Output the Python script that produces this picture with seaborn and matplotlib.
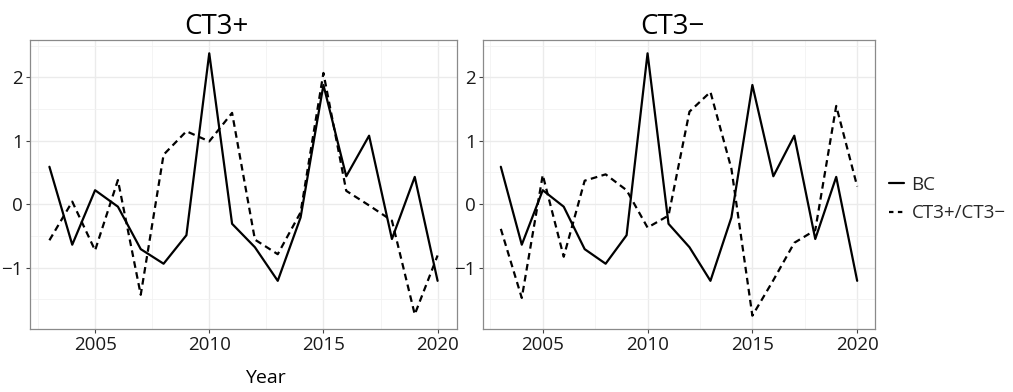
import seaborn as sns
import matplotlib.pyplot as plt
import pandas as pd
import numpy as np
from matplotlib.ticker import MultipleLocator
from matplotlib.lines import Line2D

sns.set_style("white")
plt.rcParams['font.family'] = ['Open Sans', 'DejaVu Sans']

years = list(range(2003, 2021))
bc = [0.59, -0.64, 0.22, -0.04, -0.71, -0.94, -0.49, 2.38, -0.31, -0.68,
      -1.21, -0.21, 1.88, 0.44, 1.08, -0.55, 0.43, -1.21]
ratio_pos = [-0.57, 0.04, -0.73, 0.38, -1.43, 0.78, 1.15, 0.99, 1.44, -0.56,
             -0.79, -0.13, 2.07, 0.21, -0.02, -0.26, -1.74, -0.81]
ratio_neg = [-0.39, -1.48, 0.46, -0.83, 0.37, 0.47, 0.22, -0.37, -0.18, 1.46,
             1.77, 0.56, -1.76, -1.20, -0.61, -0.41, 1.55, 0.28]
panels = ["CT3+", "CT3\u2212"]
series_names = ["BC", "CT3+/CT3\u2212"]

rows = []
for panel, ratio in zip(panels, [ratio_pos, ratio_neg]):
    for y, a, b in zip(years, bc, ratio):
        rows.append({"panel": panel, "Year": y, "series": series_names[0], "value": a})
        rows.append({"panel": panel, "Year": y, "series": series_names[1], "value": b})
df = pd.DataFrame(rows)

fig = plt.figure(figsize=(10.13, 3.92), dpi=100)
W, H = 1013, 392
boxes = [(30, 40, 457, 329), (483, 40, 875, 329)]
title_x = [216, 672]

for i, (panel, (l, t, r, b)) in enumerate(zip(panels, boxes)):
    ax = fig.add_axes([l / W, 1 - b / H, (r - l) / W, (b - t) / H])
    sub = df[df["panel"] == panel]
    sns.lineplot(data=sub, x="Year", y="value", style="series",
                 style_order=series_names, dashes={series_names[0]: "",
                 series_names[1]: (3, 2)}, color="black", linewidth=1.6,
                 ax=ax, legend=False)
    ax.set_xlim(2002.15, 2020.85)
    ax.set_ylim(-1.97, 2.59)
    ax.xaxis.set_major_locator(MultipleLocator(5))
    ax.xaxis.set_minor_locator(MultipleLocator(2.5))
    ax.yaxis.set_major_locator(MultipleLocator(1))
    ax.yaxis.set_minor_locator(MultipleLocator(0.5))
    ax.grid(which="major", color="#ebebeb", linewidth=1.0)
    ax.grid(which="minor", color="#f2f2f2", linewidth=0.6)
    ax.set_axisbelow(True)
    for s in ax.spines.values():
        s.set_color("#8a8a8a")
        s.set_linewidth(0.9)
    ax.tick_params(which="major", length=3, color="#444444", labelsize=13.5,
                   labelcolor="#1a1a1a", direction="out", bottom=True, left=True,
                   pad=2)
    ax.tick_params(which="minor", length=0)
    ax.set_xlabel("")
    ax.set_ylabel("")
    fig.text(title_x[i] / W, 1 - 34 / H, panel, ha="center", va="baseline",
             fontsize=20, color="black")

fig.text(265 / W, 1 - 378 / H, "Year", ha="center", va="center",
         fontsize=14, color="black")

handles = [Line2D([], [], color="black", linewidth=1.6),
           Line2D([], [], color="black", linewidth=1.6, dashes=(2, 2))]
fig.legend(handles, series_names, loc="center left",
           bbox_to_anchor=(872 / W, 1 - 199 / H), frameon=False,
           fontsize=13.5, handlelength=0.8, handletextpad=0.4,
           labelspacing=0.55)

fig.savefig("out.png", dpi=100)
plt.close(fig)
